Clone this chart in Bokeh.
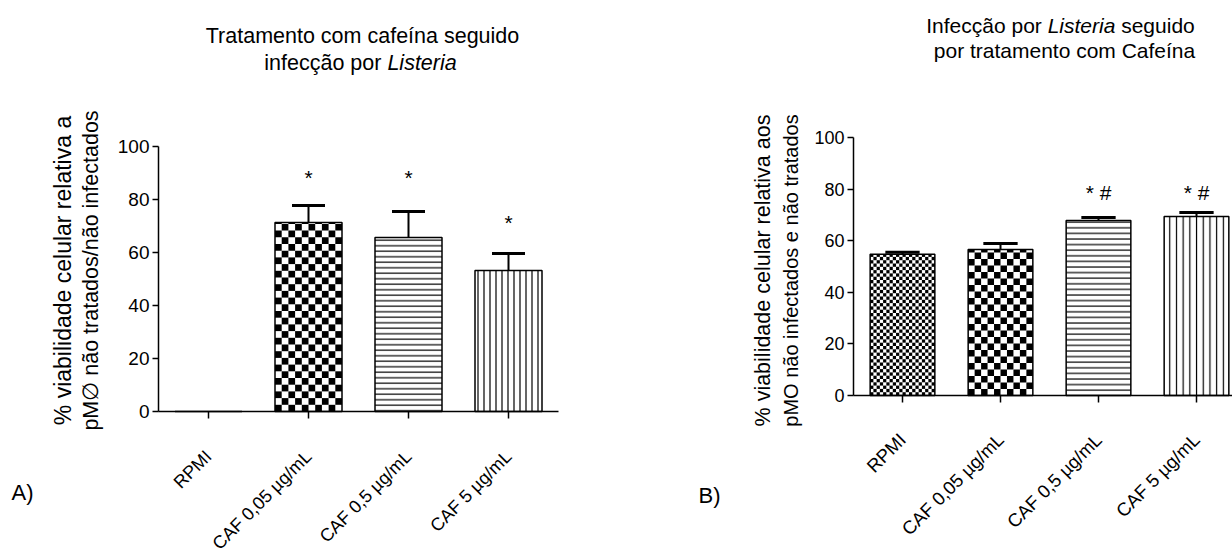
import math
from bokeh.plotting import figure
from bokeh.layouts import row
from bokeh.models import Label, FixedTicker, Range1d
from bokeh.embed import file_html
from bokeh.resources import INLINE

# ---------------- data ----------------
categories = ["RPMI", "CAF 0,05 µg/mL", "CAF 0,5 µg/mL", "CAF 5 µg/mL"]

a_mean = [0.0, 71.3, 65.7, 53.2]
a_sem = [0.0, 6.4, 9.8, 6.4]
a_sig = ["", "*", "*", "*"]
a_sig_y = [0, 88.3, 88.3, 71.3]

b_mean = [54.7, 56.6, 67.8, 69.4]
b_sem = [0.8, 2.3, 1.2, 1.5]
b_sig = ["", "", "* #", "* #"]
b_sig_y = [0, 0, 78.7, 78.7]

y_ticks = [0, 20, 40, 60, 80, 100]

FONT = "Liberation Sans"
W, H = 616, 559

# approximate Arial / Liberation Sans advance widths (1/1000 em) for layout of mixed-style titles
_AW = {" ": 278, "a": 556, "b": 556, "c": 500, "d": 556, "e": 556, "f": 278, "g": 556, "h": 556,
       "i": 222, "l": 222, "m": 833, "n": 556, "o": 556, "p": 556, "r": 333, "s": 500, "t": 278,
       "u": 556, "v": 500, "ç": 500, "ã": 556, "í": 278, "I": 278, "L": 556, "C": 722, "T": 611}


def tw(s, size):
    return sum(_AW.get(ch, 556) for ch in s) / 1000.0 * size


def make_fig(x0_px, y0_px, pxx, pxy, canvas_left, label_standoff, tick_size, xtick_size):
    xs_ = (canvas_left - x0_px) / pxx
    xe_ = (canvas_left + W - x0_px) / pxx
    ys_ = (y0_px - H) / pxy
    ye_ = y0_px / pxy
    p = figure(width=W, height=H, output_backend="svg", toolbar_location=None,
               x_range=Range1d(xs_, xe_), y_range=Range1d(ys_, ye_),
               min_border=0, min_border_left=0, min_border_right=0,
               min_border_top=0, min_border_bottom=0)
    p.outline_line_color = None
    p.grid.visible = False
    p.background_fill_color = "white"
    p.border_fill_color = "white"
    p.yaxis.fixed_location = 0
    p.yaxis.bounds = (0, 100)
    p.yaxis.ticker = FixedTicker(ticks=y_ticks)
    p.yaxis.major_tick_out = 6
    p.yaxis.major_tick_in = 0
    p.yaxis.minor_tick_out = 0
    p.yaxis.minor_tick_in = 0
    p.yaxis.axis_line_width = 1.5
    p.yaxis.major_tick_line_width = 1.5
    p.yaxis.major_label_text_font = FONT
    p.yaxis.major_label_text_font_size = tick_size
    p.yaxis.major_label_text_color = "black"
    p.yaxis.major_label_standoff = 3
    xt = [i + 0.5 for i in range(len(categories))]
    p.xaxis.fixed_location = 0
    p.xaxis.bounds = (0, len(categories))
    p.xaxis.ticker = FixedTicker(ticks=xt)
    p.xaxis.major_label_overrides = {t: c for t, c in zip(xt, categories)}
    p.xaxis.major_label_orientation = math.pi / 4
    p.xaxis.major_tick_out = 7
    p.xaxis.major_tick_in = 0
    p.xaxis.minor_tick_out = 0
    p.xaxis.minor_tick_in = 0
    p.xaxis.axis_line_width = 1.5
    p.xaxis.major_tick_line_width = 1.5
    p.xaxis.major_label_text_font = FONT
    p.xaxis.major_label_text_font_size = xtick_size
    p.xaxis.major_label_text_color = "black"
    p.xaxis.major_label_standoff = label_standoff
    return p


def checker(p, center, width, top, ncols, cell_px, pxu_y):
    cw = width / ncols
    ch = cell_px / pxu_y
    nrows = int(math.ceil(top / ch))
    L, R, B, T = [], [], [], []
    for r in range(nrows):
        for c in range(ncols):
            if (r + c) % 2 == 0:
                L.append(center - width / 2 + c * cw)
                R.append(center - width / 2 + (c + 1) * cw)
                B.append(r * ch)
                T.append(min((r + 1) * ch, top))
    p.quad(left=L, right=R, bottom=B, top=T, fill_color="black", line_color=None)


def add_text(p, x, y, text, size, style="normal", align="center", angle=0.0):
    p.add_layout(Label(x=x, y=y, text=text, text_font=FONT, text_font_size=size,
                       text_font_style=style, text_align=align, text_baseline="middle",
                       text_color="black", angle=angle))


def add_mixed_line(p, fx, fy, center_px, y_px, pieces, size):
    # pieces: list of (text, style); laid out left to right, whole line centred on center_px
    sz = float(size.replace("px", ""))
    total = sum(tw(t, sz) for t, _ in pieces)
    x = center_px - total / 2
    for t, st in pieces:
        core = t.strip()
        lead = t[:len(t) - len(t.lstrip())]
        if core:
            add_text(p, fx(x + tw(lead, sz)), fy(y_px), core, size, style=st, align="left")
        x += tw(t, sz)


xs = [i + 0.5 for i in range(len(categories))]

# ---------------- panel A ----------------
A_X0, A_Y0 = 158, 411
A_PXX, A_PXY = 100.0, 2.65
pa = make_fig(A_X0, A_Y0, A_PXX, A_PXY, 0, 35, "19px", "18px")
bw = 0.67

pa.vbar(x=[xs[1]], top=[a_mean[1]], width=bw, fill_color="white", line_color=None)
checker(pa, xs[1], bw, a_mean[1], 10, 6.7, A_PXY)
pa.vbar(x=[xs[2]], top=[a_mean[2]], width=bw, fill_color="white", line_color=None,
        hatch_pattern="horizontal_line", hatch_scale=5.5, hatch_weight=1.2, hatch_color="black")
pa.vbar(x=[xs[3]], top=[a_mean[3]], width=bw, fill_color="white", line_color=None,
        hatch_pattern="vertical_line", hatch_scale=6.0, hatch_weight=1.2, hatch_color="black")
pa.vbar(x=xs, top=a_mean, width=bw, fill_color=None, line_color="black", line_width=1.5)
a_hi = [m + s for m, s in zip(a_mean, a_sem)]
pa.segment(x0=xs[1:], y0=a_mean[1:], x1=xs[1:], y1=a_hi[1:], line_color="black", line_width=2)
pa.segment(x0=[x - 0.165 for x in xs[1:]], y0=a_hi[1:], x1=[x + 0.165 for x in xs[1:]],
           y1=a_hi[1:], line_color="black", line_width=3)
for x, s, y in zip(xs, a_sig, a_sig_y):
    if s:
        add_text(pa, x, y, s, "21px")


def ax_(px):
    return (px - A_X0) / A_PXX


def ay_(py):
    return (A_Y0 - py) / A_PXY


add_text(pa, ax_(362), ay_(35), "Tratamento com cafeína seguido", "21.5px")
add_mixed_line(pa, ax_, ay_, 360, 62, [("infecção por ", "normal"), ("Listeria", "italic")], "21.5px")
add_text(pa, ax_(62), ay_(270), "% viabilidade celular relativa a", "23px", angle=math.pi / 2)
add_text(pa, ax_(90), ay_(270), "pM∅ não tratados/não infectados", "21.5px", angle=math.pi / 2)
add_text(pa, ax_(22), ay_(492), "A)", "22px")

# ---------------- panel B ----------------
B_X0, B_Y0 = 853, 395
B_PXX, B_PXY = 98.0, 2.58
pb = make_fig(B_X0, B_Y0, B_PXX, B_PXY, W, 34, "18px", "18.5px")
bwb = 0.66

pb.vbar(x=[xs[0]], top=[b_mean[0]], width=bwb, fill_color="white", line_color=None)
checker(pb, xs[0], bwb, b_mean[0], 20, 3.3, B_PXY)
pb.vbar(x=[xs[1]], top=[b_mean[1]], width=bwb, fill_color="white", line_color=None)
checker(pb, xs[1], bwb, b_mean[1], 10, 6.5, B_PXY)
pb.vbar(x=[xs[2]], top=[b_mean[2]], width=bwb, fill_color="white", line_color=None,
        hatch_pattern="horizontal_line", hatch_scale=5.6, hatch_weight=1.2, hatch_color="black")
pb.vbar(x=[xs[3]], top=[b_mean[3]], width=bwb, fill_color="white", line_color=None,
        hatch_pattern="vertical_line", hatch_scale=6.7, hatch_weight=1.2, hatch_color="black")
pb.vbar(x=xs, top=b_mean, width=bwb, fill_color=None, line_color="black", line_width=1.5)
b_hi = [m + s for m, s in zip(b_mean, b_sem)]
pb.segment(x0=xs, y0=b_mean, x1=xs, y1=b_hi, line_color="black", line_width=2)
pb.segment(x0=[x - 0.175 for x in xs], y0=b_hi, x1=[x + 0.175 for x in xs], y1=b_hi,
           line_color="black", line_width=3)
for x, s, y in zip(xs, b_sig, b_sig_y):
    if s:
        add_text(pb, x, y, s, "21px")


def bx_(px):
    return (px - B_X0) / B_PXX


def by_(py):
    return (B_Y0 - py) / B_PXY


add_mixed_line(pb, bx_, by_, 1060, 25,
               [("Infecção por ", "normal"), ("Listeria", "italic"), (" seguido", "normal")], "21px")
add_text(pb, bx_(1064), by_(50), "por tratamento com Cafeína", "21px")
add_text(pb, bx_(762), by_(270), "% viabilidade celular relativa aos", "21.5px", angle=math.pi / 2)
add_text(pb, bx_(790), by_(270), "pMO não infectados e não tratados", "20px", angle=math.pi / 2)
add_text(pb, bx_(709), by_(495), "B)", "22px")

layout = row(pa, pb)
open("out.html", "w").write(file_html(layout, INLINE))
